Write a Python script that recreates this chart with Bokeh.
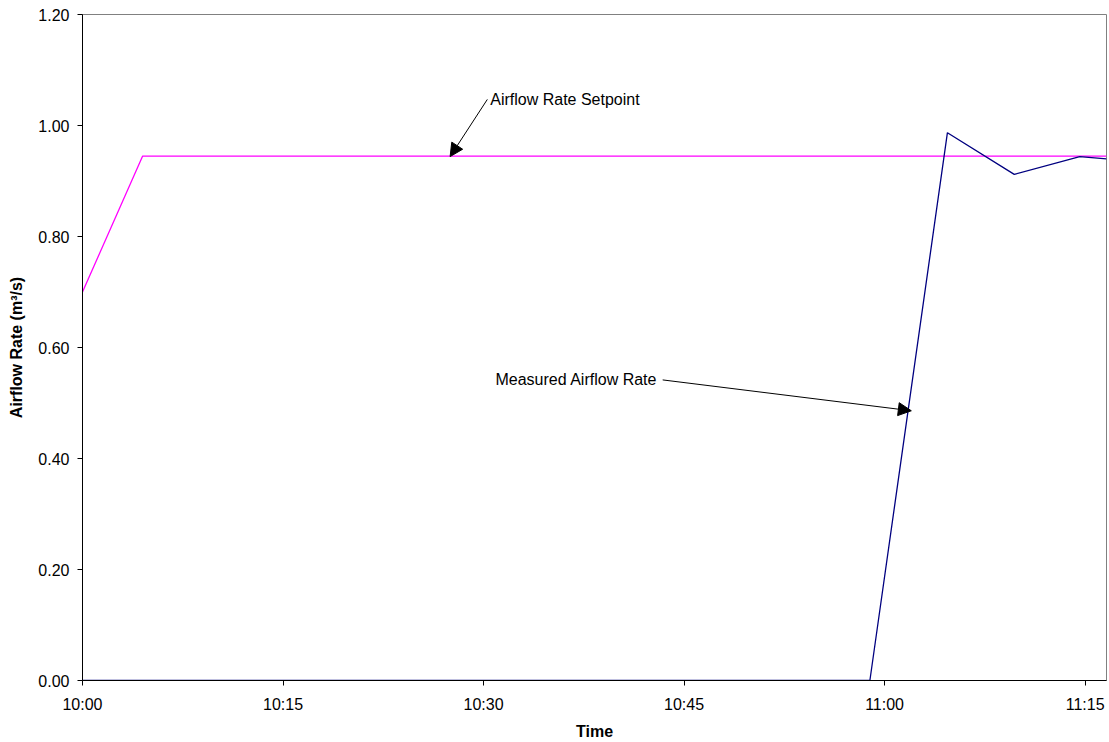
import pandas as pd
from bokeh.plotting import figure
from bokeh.models import Range1d, FixedTicker, DatetimeTickFormatter, Arrow, NormalHead, Label, CustomJSTickFormatter
from bokeh.embed import file_html
from bokeh.resources import INLINE

DAY = "2000-01-01 "

setpoint_times = ["10:00:00", "10:04:30", "11:16:36"]
setpoint_values = [0.70, 0.945, 0.945]

measured_times = ["10:00:00", "10:58:54", "11:04:42", "11:09:42", "11:14:36", "11:16:36"]
measured_values = [0.0, 0.0, 0.987, 0.912, 0.944, 0.940]

x_tick_labels = ["10:00", "10:15", "10:30", "10:45", "11:00", "11:15"]
y_ticks = [0.0, 0.2, 0.4, 0.6, 0.8, 1.0, 1.2]


def ts(t):
    return pd.Timestamp(DAY + t)


def ms(t):
    return ts(t).value / 1e6


FONT = "Liberation Sans"

p = figure(width=1108, height=742, x_axis_type="datetime",
           output_backend="svg", toolbar_location=None,
           min_border_left=82, min_border_right=2, min_border_top=14, min_border_bottom=61)
p.x_range = Range1d(ms("10:00:00"), ms("11:16:36"))
p.y_range = Range1d(0, 1.2)

p.line([ts(t) for t in setpoint_times], setpoint_values, line_color="#FF00FF", line_width=1.3)
p.line([ts(t) for t in measured_times], measured_values, line_color="#000080", line_width=1.3)

p.xgrid.visible = False
p.ygrid.visible = False
p.outline_line_color = "#808080"
p.outline_line_width = 1

p.xaxis.ticker = FixedTicker(ticks=[ms(t + ":00") for t in x_tick_labels])
p.xaxis.formatter = DatetimeTickFormatter(minutes="%H:%M", hourmin="%H:%M", hours="%H:%M")
p.yaxis.ticker = FixedTicker(ticks=y_ticks)
p.yaxis.formatter = CustomJSTickFormatter(code="return tick.toFixed(2);")

for ax in (p.xaxis[0], p.yaxis[0]):
    ax.axis_line_color = "black"
    ax.major_tick_line_color = "black"
    ax.minor_tick_line_color = None
    ax.major_tick_in = 0
    ax.major_tick_out = 5
    ax.major_label_text_font = FONT
    ax.major_label_text_font_size = "16px"
    ax.major_label_text_color = "black"
    ax.axis_label_text_font = FONT
    ax.axis_label_text_font_size = "16px"
    ax.axis_label_text_font_style = "bold"
    ax.axis_label_text_color = "black"

p.xaxis.axis_label = "Time"
p.yaxis.axis_label = "Airflow Rate (m³/s)"
p.xaxis.major_label_standoff = 10
p.xaxis.axis_label_standoff = 7
p.yaxis.major_label_standoff = 8
p.yaxis.axis_label_standoff = 10

p.add_layout(Arrow(end=NormalHead(size=13, fill_color="black", line_color="black"),
                   x_start=ms("10:30:17"), y_start=1.047, x_end=ms("10:27:30"), y_end=0.944,
                   line_color="black", line_width=1))
p.add_layout(Label(x=ms("10:30:30"), y=1.047, text="Airflow Rate Setpoint",
                   text_font=FONT, text_font_size="16px",
                   text_baseline="middle", text_color="black"))

p.add_layout(Arrow(end=NormalHead(size=13, fill_color="black", line_color="black"),
                   x_start=ms("10:43:24"), y_start=0.5416, x_end=ms("11:02:00"), y_end=0.486,
                   line_color="black", line_width=1))
p.add_layout(Label(x=ms("10:43:00"), y=0.5416, text="Measured Airflow Rate",
                   text_font=FONT, text_font_size="16px",
                   text_align="right", text_baseline="middle", text_color="black"))

open("out.html", "w").write(file_html(p, INLINE))
